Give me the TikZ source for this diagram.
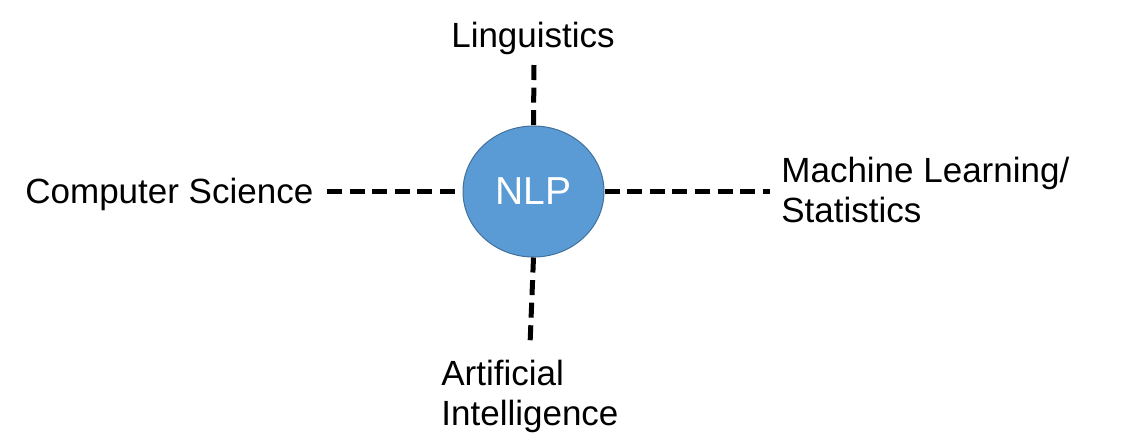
\documentclass[tikz,border=0pt]{standalone}
\usepackage{fontspec}
\setmainfont{Liberation Sans}
\usetikzlibrary{shapes.geometric}
\definecolor{nlpblue}{HTML}{5B9BD5}
\definecolor{nlpedge}{HTML}{41719C}

\begin{document}
\begin{tikzpicture}[x=0.5pt,y=-0.5pt,
  field/.style={inner sep=0pt, font=\fontsize{17.5}{20}\selectfont, align=left},
  link/.style={line width=2.5pt, dash pattern=on 7.5pt off 3.8pt}]
  \useasboundingbox (0,0) rectangle (1132,441);

  % Centre
  \node[ellipse, fill=nlpblue, draw=nlpedge, line width=0.5pt,
        minimum width=70.5pt, minimum height=65.5pt, text=white,
        font=\fontsize{19.5}{23}\selectfont] (nlp) at (533.5,191.5) {NLP};

  % Fields round it
  \node[field, anchor=base] (ling) at (533,47) {Linguistics};
  \node[field, anchor=base west] (cs) at (25,203) {Computer Science};
  \node[field, anchor=base west] (ml) at (781,222) {Machine Learning/\\Statistics};
  \node[field, anchor=base west] (ai) at (441,425) {Artificial\\Intelligence};

  % Dashed links
  \coordinate (lingend) at (534,65);
  \coordinate (csend) at (327,191.5);
  \coordinate (mlend) at (770,191.5);
  \coordinate (aiend) at (530,345);
  \draw[link] (lingend) -- (nlp.north);
  \draw[link] (csend) -- (nlp.west);
  \draw[link] (nlp.east) -- (mlend);
  \draw[link] (nlp.south) -- (aiend);
\end{tikzpicture}
\end{document}
